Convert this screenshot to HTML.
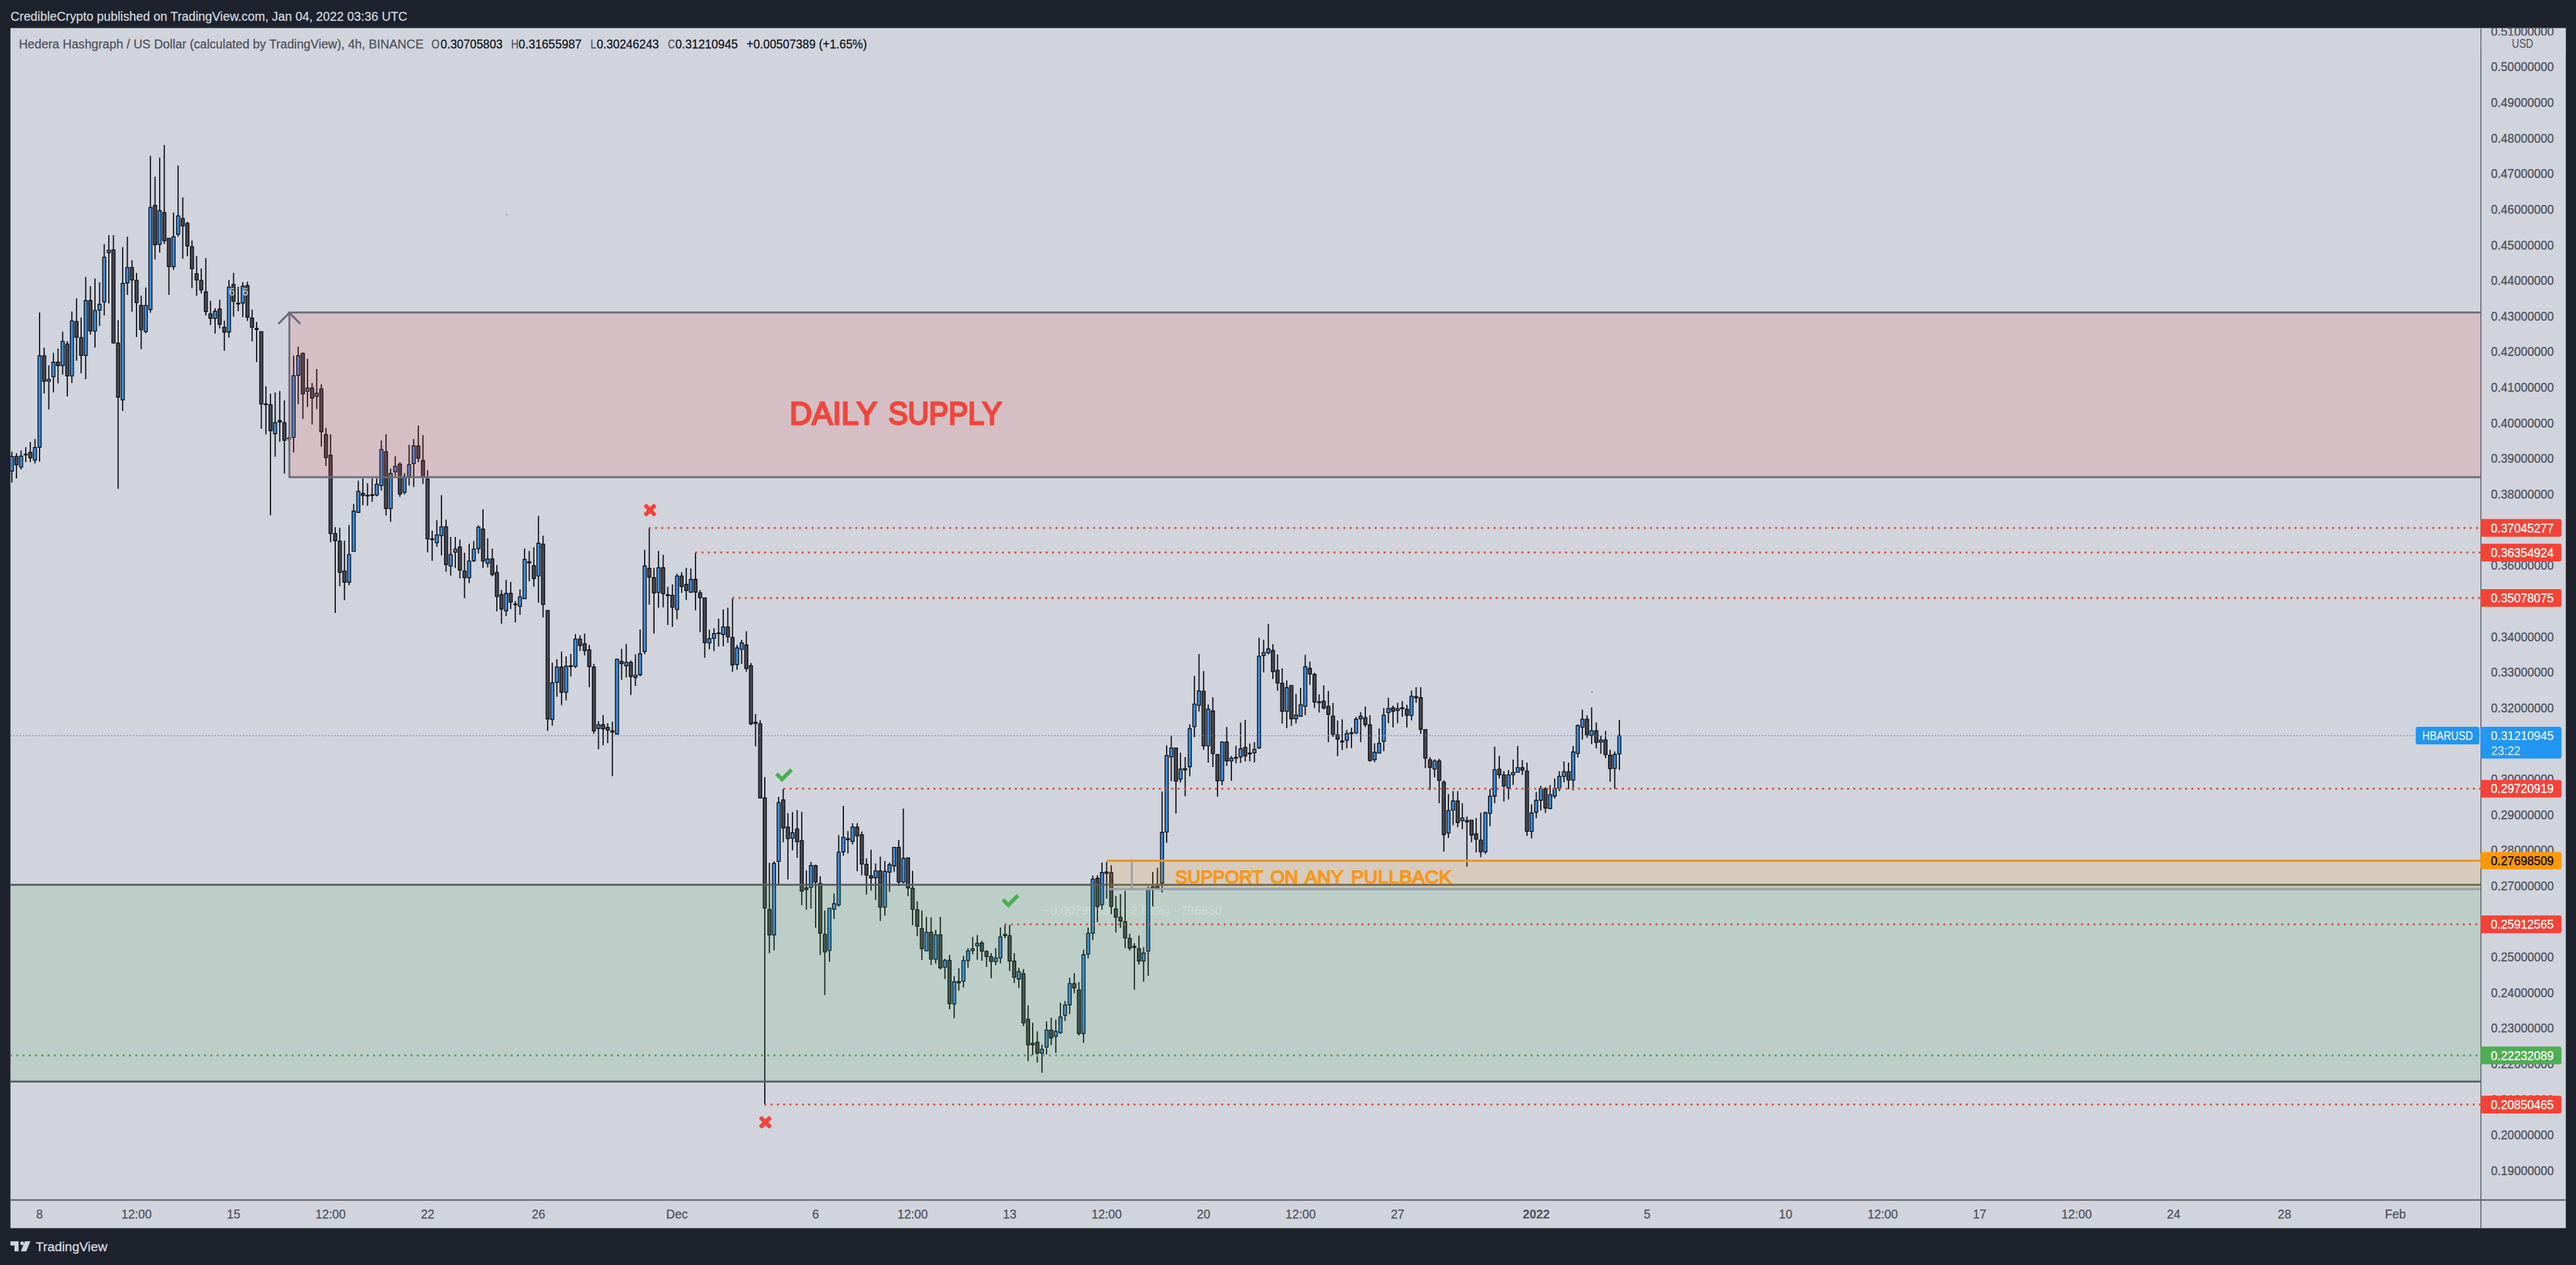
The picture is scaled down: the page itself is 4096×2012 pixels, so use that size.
<!DOCTYPE html>
<html><head><meta charset="utf-8"><title>HBARUSD</title>
<style>
html,body{margin:0;padding:0;background:#1e222d;}
body{width:4096px;height:2012px;overflow:hidden;position:relative;}
svg{position:absolute;left:0;top:0;display:block;}
text{font-family:"Liberation Sans",sans-serif;}

</style></head><body>
<svg width="4096" height="2012" viewBox="0 0 4096 2012">
<rect x="0" y="0" width="4096" height="2012" fill="#1e222d"/>
<rect x="16.6" y="44.6" width="4063.2000000000003" height="1908.8000000000002" fill="#d1d4dc"/>
<text x="16.8" y="32.6" font-size="20" fill="#d1d4dc" stroke="#d1d4dc" stroke-width="0.3" textLength="630.7" lengthAdjust="spacingAndGlyphs">CredibleCrypto published on TradingView.com, Jan 04, 2022 03:36 UTC</text>
<defs><clipPath id="pane"><rect x="16.6" y="44.6" width="3928.1" height="1864.0"/></clipPath><clipPath id="axis"><rect x="3944.0" y="44.6" width="135.80000000000035" height="1864.0"/></clipPath></defs>
<g clip-path="url(#pane)">
<text x="1658.6" y="1455" font-size="20" fill="#ffffff" fill-opacity="0.42" textLength="284" lengthAdjust="spacingAndGlyphs">−0.00795630 (−2.88%) −796630</text>
<path d="M18.8 718.3V767.4M26.2 720.7V761.0M33.5 716.4V746.8M40.9 711.2V734.9M48.2 702.9V734.9M55.6 698.2V737.3M62.9 497.1V734.2M70.2 553.0V625.8M77.6 581.3V651.2M84.9 561.3V624.0M92.3 554.2V609.7M99.6 527.4V595.7M107.0 542.8V630.6M114.3 495.4V609.2M121.7 474.5V573.7M129.0 504.9V593.4M136.3 440.6V603.2M143.7 455.3V532.1M151.0 442.9V552.7M158.4 448.9V518.6M165.7 388.4V501.7M173.1 374.1V482.8M180.4 374.1V546.3M187.8 509.3V777.5M195.1 393.1V653.8M202.5 376.5V469.0M209.8 414.0V495.8M217.1 433.9V536.1M224.5 470.2V555.3M231.8 457.2V530.2M239.2 247.7V497.5M246.5 280.9V412.6M253.9 250.8V401.4M261.2 230.7V387.9M268.6 378.9V469.0M275.9 337.9V429.2M283.2 263.2V376.5M290.6 314.1V411.6M297.9 352.8V407.4M305.3 382.4V458.3M312.6 407.3V470.6M320.0 427.0V466.6M327.3 410.4V502.1M334.7 478.4V517.1M342.0 490.3V530.6M349.4 476.8V522.3M356.7 510.0V557.9M364.0 445.2V537.0M371.4 434.1V503.8M378.7 455.9V495.0M386.1 448.8V504.5M393.4 448.1V510.4M400.8 492.6V542.9M408.1 512.1V576.1M415.5 527.5V681.9M422.8 614.3V690.9M430.1 625.9V819.4M437.5 624.3V726.5M444.8 621.9V702.8M452.2 636.8V753.3M459.5 693.0V702.5M466.9 565.7V719.4M474.2 551.5V642.8M481.6 560.7V666.2M488.9 570.4V647.3M496.3 609.3V675.3M503.6 587.0V650.4M510.9 611.2V710.6M518.3 680.7V741.0M525.6 690.7V862.5M533.0 838.4V975.0M540.3 839.2V932.3M547.7 859.7V954.5M555.0 834.9V930.8M562.4 801.4V877.1M569.7 764.4V815.0M577.0 760.9V803.6M584.4 768.6V804.5M591.7 760.9V797.9M599.1 760.9V789.4M606.4 700.6V780.3M613.8 690.7V820.1M621.1 745.3V830.1M628.5 725.4V756.7M635.8 735.3V790.3M643.2 752.4V786.6M650.5 707.4V772.3M657.8 698.3V774.6M665.2 677.0V735.3M672.5 692.1V769.5M679.9 748.1V878.5M687.2 844.0V891.9M694.6 827.3V869.7M701.9 787.4V883.3M709.3 826.4V909.5M716.6 854.0V915.5M723.9 854.0V903.2M731.3 858.3V920.3M738.6 879.1V951.6M746.0 864.8V927.4M753.3 860.6V894.1M760.7 835.5V880.5M768.0 809.9V903.2M775.4 856.3V902.4M782.7 872.5V916.6M790.1 898.4V972.4M797.4 938.2V992.3M804.7 922.3V980.1M812.1 925.4V968.7M819.4 955.9V990.0M826.8 937.4V978.1M834.1 872.5V953.0M841.5 876.3V924.6M848.8 870.3V933.2M856.2 820.5V958.5M863.5 852.1V982.1M870.8 970.8V1162.6M878.2 1054.1V1154.3M885.5 1048.4V1108.2M892.9 1036.2V1121.6M900.2 1043.9V1113.9M907.6 1039.9V1076.0M914.9 1008.6V1062.4M922.3 1010.6V1035.4M929.6 1007.7V1042.5M937.0 1025.4V1093.1M944.3 1056.1V1167.1M951.6 1147.1V1191.7M959.0 1137.6V1185.4M966.3 1150.3V1181.9M973.7 1147.7V1234.4M981.0 1047.8V1168.3M988.4 1031.9V1080.9M995.7 1024.3V1077.5M1003.1 1050.4V1105.4M1010.4 1041.0V1091.1M1017.8 1001.2V1075.5M1025.1 874.6V1040.5M1032.4 839.8V961.4M1039.8 903.3V1007.7M1047.1 876.3V966.5M1054.5 882.5V965.9M1061.8 933.2V994.1M1069.2 929.5V996.9M1076.5 912.4V985.0M1083.9 910.1V943.1M1091.2 903.0V954.2M1098.5 903.9V943.1M1105.9 878.8V970.8M1113.2 938.6V1005.5M1120.6 950.8V1046.2M1127.9 1001.5V1032.8M1135.3 999.2V1035.4M1142.6 984.1V1028.5M1150.0 969.3V1027.7M1157.3 966.5V1022.5M1164.7 951.4V1068.4M1172.0 1025.7V1065.2M1179.3 1017.7V1056.1M1186.7 1004.0V1068.4M1194.0 1054.4V1153.4M1201.4 1135.8V1187.0M1208.7 1145.5V1270.1M1216.1 1236.0V1757.1M1223.4 1372.3V1516.0M1230.8 1370.1V1511.8M1238.1 1267.6V1407.9M1245.4 1254.8V1339.6M1252.8 1293.2V1398.8M1260.1 1291.8V1352.4M1267.5 1288.4V1364.6M1274.8 1291.2V1439.8M1282.2 1384.3V1446.9M1289.5 1370.9V1444.9M1296.9 1375.2V1475.6M1304.2 1393.7V1518.9M1311.5 1448.3V1582.4M1318.9 1444.3V1529.7M1326.2 1421.3V1461.4M1333.6 1328.2V1442.1M1340.9 1281.8V1360.9M1348.3 1321.7V1357.5M1355.6 1309.2V1343.3M1363.0 1309.2V1385.7M1370.3 1322.5V1392.3M1377.7 1365.2V1422.7M1385.0 1351.6V1416.4M1392.3 1373.2V1431.5M1399.7 1362.4V1464.8M1407.0 1369.5V1456.3M1414.4 1371.8V1418.4M1421.7 1347.6V1386.6M1429.1 1335.9V1409.3M1436.4 1286.1V1405.1M1443.8 1363.8V1425.5M1451.1 1385.1V1471.4M1458.5 1433.5V1489.0M1465.8 1448.3V1526.9M1473.1 1458.6V1513.2M1480.5 1459.1V1535.1M1487.8 1479.0V1532.7M1495.2 1458.2V1542.1M1502.5 1525.1V1557.2M1509.9 1518.8V1605.3M1517.2 1552.7V1619.5M1524.6 1540.1V1575.4M1531.9 1520.2V1570.6M1539.2 1508.0V1539.3M1546.6 1490.3V1517.4M1553.9 1487.2V1526.5M1561.3 1496.6V1527.9M1568.6 1511.7V1537.9M1576.0 1516.0V1555.8M1583.3 1508.0V1535.0M1590.7 1475.3V1532.2M1598.0 1471.0V1492.3M1605.4 1471.0V1544.4M1612.7 1516.0V1563.5M1620.0 1539.3V1571.4M1627.4 1541.3V1632.3M1634.7 1599.1V1687.8M1642.1 1626.7V1678.2M1649.4 1640.3V1690.1M1656.8 1661.7V1706.3M1664.1 1624.7V1677.3M1671.5 1618.4V1662.5M1678.8 1621.8V1674.5M1686.1 1594.8V1644.6M1693.5 1591.9V1623.8M1700.8 1554.9V1612.7M1708.2 1547.8V1579.7M1715.5 1562.1V1646.9M1722.9 1510.8V1658.8M1730.2 1475.3V1524.2M1737.6 1392.7V1495.2M1744.9 1391.9V1466.7M1752.2 1372.0V1446.8M1759.6 1370.8V1429.2M1766.9 1376.2V1453.9M1774.3 1424.9V1482.9M1781.6 1422.0V1475.8M1789.0 1416.9V1508.0M1796.3 1485.2V1511.7M1803.7 1500.3V1574.3M1811.0 1488.1V1534.2M1818.4 1506.6V1561.5M1825.7 1409.8V1552.1M1833.0 1387.0V1441.7M1840.4 1380.3V1413.6M1847.7 1258.8V1419.3M1855.1 1185.4V1340.5M1862.4 1169.7V1242.3M1869.8 1189.6V1294.1M1877.1 1197.3V1244.6M1884.5 1203.9V1266.5M1891.8 1152.1V1234.7M1899.2 1074.9V1172.6M1906.5 1040.2V1131.6M1913.8 1067.3V1192.5M1921.2 1120.5V1213.0M1928.5 1109.1V1220.1M1935.9 1199.6V1267.3M1943.2 1179.6V1248.9M1950.6 1156.3V1218.2M1957.9 1202.4V1241.7M1965.3 1185.9V1214.0M1972.6 1149.3V1213.4M1979.9 1145.1V1211.1M1987.3 1182.5V1211.1M1994.6 1180.2V1212.5M2002.0 1014.2V1191.0M2009.3 1017.4V1069.6M2016.7 992.2V1041.1M2024.0 1024.5V1080.0M2031.4 1041.1V1098.4M2038.7 1063.0V1150.8M2046.0 1082.3V1158.2M2053.4 1089.9V1154.6M2060.7 1103.8V1150.6M2068.1 1093.9V1139.8M2075.4 1041.5V1137.5M2082.8 1052.2V1089.5M2090.1 1070.0V1126.0M2097.5 1104.3V1133.2M2104.8 1090.1V1128.4M2112.2 1099.0V1180.6M2119.5 1118.0V1172.1M2126.8 1146.1V1202.8M2134.2 1144.2V1192.9M2141.5 1161.1V1190.6M2148.9 1157.4V1189.7M2156.2 1140.2V1167.3M2163.6 1132.8V1180.6M2170.9 1123.7V1156.5M2178.3 1137.6V1211.4M2185.6 1182.2V1212.2M2192.9 1158.7V1197.8M2200.3 1126.1V1194.7M2207.6 1109.7V1150.3M2215.0 1122.2V1156.9M2222.3 1117.7V1150.3M2229.7 1114.9V1139.9M2237.0 1120.9V1156.9M2244.4 1098.2V1145.7M2251.7 1093.0V1117.7M2259.1 1093.0V1167.0M2266.4 1160.5V1221.8M2273.7 1204.3V1256.5M2281.1 1207.7V1236.2M2288.4 1207.0V1277.4M2295.8 1240.9V1354.4M2303.1 1263.0V1332.7M2310.5 1258.3V1312.6M2317.8 1258.3V1315.7M2325.2 1277.4V1319.1M2332.5 1298.8V1378.6M2339.8 1304.3V1339.5M2347.2 1300.9V1355.7M2354.5 1292.5V1363.5M2361.9 1291.0V1358.3M2369.2 1255.2V1313.9M2376.6 1187.4V1277.4M2383.9 1202.3V1238.3M2391.3 1226.5V1274.8M2398.6 1224.7V1271.4M2406.0 1208.3V1248.2M2413.3 1186.6V1229.1M2420.6 1209.0V1232.5M2428.0 1213.0V1329.6M2435.3 1279.2V1333.5M2442.7 1259.7V1301.4M2450.0 1250.0V1289.1M2457.4 1251.8V1293.0M2464.7 1248.7V1287.0M2472.1 1238.3V1270.1M2479.4 1226.5V1258.3M2486.8 1210.9V1244.3M2494.1 1213.0V1255.2M2501.4 1186.6V1257.3M2508.8 1152.2V1205.1M2516.1 1128.7V1176.4M2523.5 1137.8V1173.6M2530.8 1125.3V1183.5M2538.2 1149.0V1190.5M2545.5 1169.9V1199.1M2552.9 1162.6V1205.7M2560.2 1192.6V1243.5M2567.5 1195.2V1254.7M2574.9 1145.1V1224.7" stroke="#0d0e12" stroke-width="1.85" fill="none"/>
<path d="M23.6 725.9H28.7V739.2H23.6ZM38.3 722.4H43.4V723.6H38.3ZM45.7 719.5H50.8V728.3H45.7ZM67.7 565.8H72.8V606.2H67.7ZM89.7 576.0H94.8V581.5H89.7ZM104.4 547.1H109.5V597.9H104.4ZM119.1 511.3H124.2V536.4H119.1ZM126.5 536.9H131.6V565.4H126.5ZM141.1 478.0H146.2V526.2H141.1ZM177.9 397.4H183.0V545.6H177.9ZM185.2 545.6H190.3V631.7H185.2ZM207.2 425.4H212.4V445.3H207.2ZM214.6 445.8H219.7V481.3H214.6ZM221.9 485.6H227.0V524.3H221.9ZM244.0 326.7H249.1V389.3H244.0ZM258.7 337.9H263.8V382.7H258.7ZM266.0 378.9H271.1V424.0H266.0ZM288.0 347.4H293.1V359.4H288.0ZM295.4 355.2H300.5V391.2H295.4ZM302.7 392.3H307.8V427.4H302.7ZM310.1 435.3H315.2V445.2H310.1ZM317.4 445.9H322.5V461.1H317.4ZM324.8 464.2H329.9V495.5H324.8ZM332.1 499.1H337.2V506.2H332.1ZM346.8 491.5H351.9V515.7H346.8ZM354.1 520.4H359.2V528.2H354.1ZM368.8 452.3H373.9V479.1H368.8ZM376.2 482.2H381.3V483.6H376.2ZM390.9 454.2H396.0V504.5H390.9ZM398.2 505.7H403.3V520.6H398.2ZM405.6 522.3H410.7V524.0H405.6ZM412.9 527.5H418.0V642.5H412.9ZM420.3 642.4H425.4V643.6H420.3ZM427.6 643.7H432.7V685.0H427.6ZM442.3 668.9H447.4V671.2H442.3ZM449.6 672.2H454.7V700.4H449.6ZM457.0 696.7H462.1V697.9H457.0ZM479.0 561.9H484.1V626.6H479.0ZM493.7 617.2H498.8V633.0H493.7ZM508.4 618.3H513.5V686.6H508.4ZM515.7 691.2H520.8V727.7H515.7ZM523.1 724.0H528.2V848.6H523.1ZM530.4 848.6H535.5V860.0H530.4ZM537.8 860.6H542.9V910.4H537.8ZM545.1 908.1H550.2V926.0H545.1ZM574.5 784.6H579.6V788.0H574.5ZM581.8 787.7H586.9V788.9H581.8ZM589.2 786.8H594.3V788.0H589.2ZM611.2 718.3H616.3V808.8H611.2ZM633.3 738.2H638.4V785.7H633.3ZM662.6 709.2H667.7V728.8H662.6ZM670.0 732.5H675.1V759.0H670.0ZM677.3 761.8H682.4V857.1H677.3ZM684.7 857.1H689.8V858.3H684.7ZM706.7 837.8H711.8V898.1H706.7ZM728.7 869.9H733.8V906.7H728.7ZM736.1 908.1H741.2V918.9H736.1ZM765.5 841.5H770.6V892.4H765.5ZM780.2 889.0H785.3V913.8H780.2ZM787.5 910.4H792.6V948.8H787.5ZM794.9 945.4H799.9V968.7H794.9ZM809.5 943.7H814.6V957.9H809.5ZM816.9 960.7H822.0V961.9H816.9ZM838.9 893.3H844.0V895.3H838.9ZM846.3 899.6H851.4V920.4H846.3ZM861.0 865.5H866.1V961.4H861.0ZM868.3 970.8H873.4V1143.5H868.3ZM890.3 1061.0H895.4V1101.1H890.3ZM905.0 1059.0H910.1V1060.4H905.0ZM919.7 1016.3H924.8V1026.8H919.7ZM927.1 1024.0H932.2V1034.8H927.1ZM934.4 1033.4H939.5V1060.4H934.4ZM941.8 1061.0H946.8V1162.6H941.8ZM956.4 1152.6H961.5V1159.3H956.4ZM963.8 1156.9H968.9V1161.3H963.8ZM971.1 1162.5H976.2V1164.3H971.1ZM985.8 1051.9H990.9V1055.6H985.8ZM1000.5 1053.3H1005.6V1076.0H1000.5ZM1029.9 903.9H1035.0V918.1H1029.9ZM1037.2 918.7H1042.3V943.1H1037.2ZM1051.9 903.0H1057.0V944.3H1051.9ZM1059.3 946.0H1064.4V947.4H1059.3ZM1066.6 946.6H1071.7V965.9H1066.6ZM1081.3 916.1H1086.4V932.9H1081.3ZM1088.7 929.5H1093.8V939.4H1088.7ZM1103.3 921.5H1108.4V941.7H1103.3ZM1110.7 942.9H1115.8V950.8H1110.7ZM1118.0 950.8H1123.1V1022.0H1118.0ZM1140.1 1006.6H1145.2V1007.8H1140.1ZM1154.8 997.2H1159.9V1012.9H1154.8ZM1162.1 1014.0H1167.2V1057.5H1162.1ZM1184.1 1025.7H1189.2V1063.2H1184.1ZM1191.5 1058.7H1196.6V1151.2H1191.5ZM1198.8 1148.6H1203.9V1150.6H1198.8ZM1206.2 1151.2H1211.3V1269.3H1206.2ZM1213.5 1269.0H1218.6V1444.3H1213.5ZM1220.9 1446.3H1226.0V1487.0H1220.9ZM1242.9 1272.2H1248.0V1316.8H1242.9ZM1250.2 1315.4H1255.3V1333.9H1250.2ZM1264.9 1318.3H1270.0V1338.8H1264.9ZM1272.3 1336.8H1277.4V1417.3H1272.3ZM1279.6 1412.2H1284.7V1415.0H1279.6ZM1294.3 1376.6H1299.4V1402.8H1294.3ZM1301.7 1405.1H1306.8V1484.2H1301.7ZM1309.0 1486.2H1314.1V1514.1H1309.0ZM1345.7 1333.9H1350.8V1335.6H1345.7ZM1360.4 1315.4H1365.5V1329.6H1360.4ZM1367.8 1327.7H1372.9V1374.3H1367.8ZM1375.1 1374.6H1380.2V1391.7H1375.1ZM1382.5 1392.8H1387.5V1396.5H1382.5ZM1397.1 1385.1H1402.2V1442.9H1397.1ZM1426.5 1347.6H1431.6V1402.8H1426.5ZM1441.2 1364.4H1446.3V1412.2H1441.2ZM1448.6 1412.7H1453.7V1446.3H1448.6ZM1455.9 1446.9H1461.0V1473.4H1455.9ZM1463.2 1476.8H1468.3V1508.9H1463.2ZM1477.9 1482.8H1483.0V1525.4H1477.9ZM1492.6 1486.6H1497.7V1539.3H1492.6ZM1507.3 1527.3H1512.4V1596.2H1507.3ZM1522.0 1561.2H1527.1V1563.2H1522.0ZM1558.7 1499.7H1563.8V1512.8H1558.7ZM1566.1 1513.1H1571.2V1521.4H1566.1ZM1573.4 1521.4H1578.5V1529.3H1573.4ZM1595.5 1486.1H1600.6V1488.1H1595.5ZM1602.8 1488.1H1607.9V1528.5H1602.8ZM1610.1 1528.5H1615.2V1554.4H1610.1ZM1624.8 1548.4H1629.9V1626.7H1624.8ZM1632.2 1621.2H1637.3V1661.7H1632.2ZM1639.5 1659.4H1644.6V1661.7H1639.5ZM1646.9 1657.4H1652.0V1675.0H1646.9ZM1668.9 1638.3H1674.0V1651.1H1668.9ZM1705.6 1564.3H1710.7V1571.4H1705.6ZM1713.0 1574.3H1718.1V1643.7H1713.0ZM1742.4 1397.0H1747.5V1441.7H1742.4ZM1757.0 1387.0H1762.1V1389.0H1757.0ZM1764.4 1387.6H1769.5V1441.7H1764.4ZM1771.7 1445.4H1776.8V1458.8H1771.7ZM1779.1 1459.0H1784.2V1464.7H1779.1ZM1786.4 1465.9H1791.5V1491.8H1786.4ZM1793.8 1492.3H1798.9V1508.0H1793.8ZM1801.1 1505.1H1806.2V1507.1H1801.1ZM1808.5 1508.8H1813.6V1528.5H1808.5ZM1830.5 1410.7H1835.6V1412.4H1830.5ZM1837.8 1409.6H1842.9V1412.2H1837.8ZM1867.2 1189.6H1872.3V1242.3H1867.2ZM1881.9 1222.4H1887.0V1224.6H1881.9ZM1911.3 1099.4H1916.4V1186.3H1911.3ZM1926.0 1130.7H1931.1V1198.6H1926.0ZM1933.3 1200.1H1938.4V1241.7H1933.3ZM1948.0 1180.2H1953.1V1210.2H1948.0ZM1962.7 1204.7H1967.8V1205.9H1962.7ZM1977.4 1188.6H1982.5V1202.4H1977.4ZM1984.7 1197.7H1989.8V1199.0H1984.7ZM2021.5 1034.5H2026.6V1068.3H2021.5ZM2028.8 1066.2H2033.9V1086.3H2028.8ZM2036.2 1086.7H2041.3V1131.3H2036.2ZM2050.8 1090.1H2055.9V1143.2H2050.8ZM2080.2 1063.0H2085.3V1072.1H2080.2ZM2087.6 1072.5H2092.7V1116.5H2087.6ZM2094.9 1116.1H2100.0V1117.6H2094.9ZM2102.3 1115.1H2107.4V1126.1H2102.3ZM2109.6 1123.3H2114.7V1136.4H2109.6ZM2116.9 1138.9H2122.1V1167.9H2116.9ZM2124.3 1168.8H2129.4V1175.5H2124.3ZM2131.6 1178.7H2136.7V1180.0H2131.6ZM2146.3 1165.4H2151.4V1166.7H2146.3ZM2168.4 1141.3H2173.5V1152.5H2168.4ZM2175.7 1153.0H2180.8V1209.6H2175.7ZM2212.4 1125.6H2217.5V1131.3H2212.4ZM2227.1 1125.6H2232.2V1127.4H2227.1ZM2234.5 1127.9H2239.6V1137.8H2234.5ZM2249.2 1107.8H2254.3V1109.7H2249.2ZM2256.5 1109.7H2261.6V1160.0H2256.5ZM2263.8 1160.5H2269.0V1205.7H2263.8ZM2271.2 1208.3H2276.3V1220.5H2271.2ZM2285.9 1210.1H2291.0V1241.4H2285.9ZM2293.2 1244.0H2298.3V1327.5H2293.2ZM2315.3 1274.0H2320.4V1308.2H2315.3ZM2330.0 1304.8H2335.1V1307.4H2330.0ZM2337.3 1304.3H2342.4V1328.3H2337.3ZM2344.6 1326.2H2349.7V1334.8H2344.6ZM2352.0 1336.1H2357.1V1354.9H2352.0ZM2381.4 1223.4H2386.5V1232.3H2381.4ZM2388.7 1232.3H2393.8V1250.0H2388.7ZM2418.1 1220.8H2423.2V1224.7H2418.1ZM2425.4 1226.5H2430.5V1322.3H2425.4ZM2454.8 1254.7H2459.9V1285.2H2454.8ZM2491.5 1227.3H2496.6V1240.9H2491.5ZM2520.9 1143.8H2526.0V1169.1H2520.9ZM2535.6 1162.1H2540.7V1180.9H2535.6ZM2550.3 1177.0H2555.4V1200.4H2550.3ZM2557.6 1201.2H2562.8V1222.6H2557.6Z" fill="#464851" stroke="#0b0c0f" stroke-width="1.35"/>
<path d="M16.3 726.2H21.4V749.2H16.3ZM31.0 725.5H36.1V742.8H31.0ZM53.0 711.7H58.1V731.9H53.0ZM60.4 565.8H65.5V711.2H60.4ZM75.0 603.3H80.1V606.4H75.0ZM82.4 576.0H87.5V599.3H82.4ZM97.1 542.8H102.2V581.5H97.1ZM111.8 510.4H116.9V597.9H111.8ZM133.8 478.0H138.9V565.3H133.8ZM148.5 493.9H153.6V526.6H148.5ZM155.8 484.0H160.9V493.4H155.8ZM163.2 409.2H168.3V480.4H163.2ZM170.5 397.9H175.6V401.7H170.5ZM192.6 450.7H197.7V636.0H192.6ZM199.9 425.4H205.0V450.0H199.9ZM229.3 485.6H234.4V527.3H229.3ZM236.6 329.8H241.7V492.3H236.6ZM251.3 335.0H256.4V388.6H251.3ZM273.4 376.5H278.5V424.0H273.4ZM280.7 343.3H285.8V372.5H280.7ZM339.5 495.0H344.6V506.2H339.5ZM361.5 456.6H366.6V528.2H361.5ZM383.5 455.2H388.6V482.0H383.5ZM434.9 672.2H440.0V689.7H434.9ZM464.3 597.5H469.4V695.6H464.3ZM471.7 565.7H476.8V597.0H471.7ZM486.4 617.2H491.5V622.4H486.4ZM501.0 625.5H506.1V630.2H501.0ZM552.5 881.9H557.6V926.0H552.5ZM559.8 812.7H564.9V877.1H559.8ZM567.2 781.4H572.3V815.0H567.2ZM596.5 770.1H601.6V787.4H596.5ZM603.9 714.8H609.0V772.3H603.9ZM618.6 753.0H623.7V808.8H618.6ZM625.9 741.6H631.0V750.4H625.9ZM640.6 758.1H645.7V783.1H640.6ZM648.0 739.0H653.0V758.1H648.0ZM655.3 709.2H660.4V737.3H655.3ZM692.0 850.6H697.1V863.4H692.0ZM699.4 837.8H704.5V852.0H699.4ZM714.1 881.9H719.2V900.4H714.1ZM721.4 873.4H726.5V878.2H721.4ZM743.4 892.4H748.5V918.9H743.4ZM750.8 873.4H755.9V891.9H750.8ZM758.1 838.4H763.2V872.5H758.1ZM772.8 889.0H777.9V896.1H772.8ZM802.2 943.7H807.3V971.5H802.2ZM824.2 949.3H829.3V964.4H824.2ZM831.6 889.6H836.7V952.2H831.6ZM853.6 864.0H858.7V916.1H853.6ZM875.6 1086.0H880.7V1144.3H875.6ZM883.0 1061.0H888.1V1085.2H883.0ZM897.7 1059.5H902.8V1101.1H897.7ZM912.4 1016.3H917.5V1059.8H912.4ZM949.1 1152.6H954.2V1158.5H949.1ZM978.5 1048.5H983.6V1167.5H978.5ZM993.2 1053.3H998.3V1059.0H993.2ZM1007.9 1073.8H1013.0V1077.5H1007.9ZM1015.2 1039.6H1020.3V1073.2H1015.2ZM1022.5 900.2H1027.6V1036.2H1022.5ZM1044.6 903.0H1049.7V942.3H1044.6ZM1074.0 916.1H1079.1V969.3H1074.0ZM1096.0 921.5H1101.1V941.7H1096.0ZM1125.4 1015.7H1130.5V1022.5H1125.4ZM1132.7 1007.7H1137.8V1015.4H1132.7ZM1147.4 997.2H1152.5V1009.2H1147.4ZM1169.4 1030.5H1174.5V1057.0H1169.4ZM1176.8 1022.5H1181.9V1032.8H1176.8ZM1228.2 1373.2H1233.3V1487.0H1228.2ZM1235.6 1276.4H1240.7V1370.3H1235.6ZM1257.6 1324.5H1262.7V1333.3H1257.6ZM1287.0 1376.6H1292.1V1411.6H1287.0ZM1316.3 1444.3H1321.4V1511.8H1316.3ZM1323.7 1437.2H1328.8V1446.3H1323.7ZM1331.0 1355.3H1336.1V1439.2H1331.0ZM1338.4 1331.6H1343.5V1354.7H1338.4ZM1353.1 1315.4H1358.2V1338.2H1353.1ZM1389.8 1385.1H1394.9V1396.0H1389.8ZM1404.5 1386.0H1409.6V1442.9H1404.5ZM1411.8 1375.2H1416.9V1387.4H1411.8ZM1419.2 1347.6H1424.3V1377.2H1419.2ZM1433.9 1365.2H1439.0V1402.8H1433.9ZM1470.6 1482.8H1475.7V1512.3H1470.6ZM1485.3 1486.6H1490.4V1525.9H1485.3ZM1500.0 1527.3H1505.1V1538.4H1500.0ZM1514.7 1561.5H1519.8V1596.8H1514.7ZM1529.4 1527.9H1534.5V1560.6H1529.4ZM1536.7 1512.3H1541.8V1527.9H1536.7ZM1544.0 1509.1H1549.1V1511.7H1544.0ZM1551.4 1500.3H1556.5V1504.3H1551.4ZM1580.8 1523.6H1585.9V1529.3H1580.8ZM1588.1 1490.1H1593.2V1523.6H1588.1ZM1617.5 1545.5H1622.6V1557.2H1617.5ZM1654.2 1668.8H1659.3V1675.0H1654.2ZM1661.6 1638.3H1666.7V1665.4H1661.6ZM1676.2 1640.3H1681.3V1648.3H1676.2ZM1683.6 1617.5H1688.7V1642.6H1683.6ZM1690.9 1598.5H1696.0V1614.7H1690.9ZM1698.3 1564.3H1703.4V1598.2H1698.3ZM1720.3 1518.5H1725.4V1643.7H1720.3ZM1727.7 1484.4H1732.8V1517.4H1727.7ZM1735.0 1398.4H1740.1V1484.4H1735.0ZM1749.7 1387.6H1754.8V1439.1H1749.7ZM1815.8 1515.7H1820.9V1528.5H1815.8ZM1823.2 1414.1H1828.2V1512.8H1823.2ZM1845.2 1324.0H1850.3V1404.5H1845.2ZM1852.5 1201.6H1857.6V1323.4H1852.5ZM1859.9 1189.6H1865.0V1203.9H1859.9ZM1874.6 1223.2H1879.7V1239.4H1874.6ZM1889.3 1158.8H1894.4V1219.5H1889.3ZM1896.6 1119.9H1901.7V1155.9H1896.6ZM1903.9 1099.0H1909.0V1121.8H1903.9ZM1918.6 1128.0H1923.7V1186.3H1918.6ZM1940.7 1180.2H1945.8V1241.7H1940.7ZM1955.4 1205.8H1960.5V1210.4H1955.4ZM1970.1 1191.0H1975.2V1203.7H1970.1ZM1992.1 1192.0H1997.2V1197.3H1992.1ZM1999.4 1043.6H2004.5V1189.5H1999.4ZM2006.8 1037.9H2011.9V1042.5H2006.8ZM2014.1 1032.2H2019.2V1038.3H2014.1ZM2043.5 1093.7H2048.6V1131.3H2043.5ZM2058.2 1137.5H2063.3V1143.2H2058.2ZM2065.5 1120.8H2070.6V1139.2H2065.5ZM2072.9 1060.5H2078.0V1123.3H2072.9ZM2139.0 1166.7H2144.1V1177.4H2139.0ZM2153.7 1144.0H2158.8V1165.8H2153.7ZM2161.0 1139.2H2166.1V1143.2H2161.0ZM2183.1 1196.5H2188.2V1208.3H2183.1ZM2190.4 1182.2H2195.5V1197.8H2190.4ZM2197.7 1137.3H2202.8V1179.0H2197.7ZM2205.1 1126.9H2210.2V1133.4H2205.1ZM2219.8 1126.9H2224.9V1130.0H2219.8ZM2241.8 1107.3H2246.9V1137.8H2241.8ZM2278.5 1210.3H2283.6V1223.1H2278.5ZM2300.6 1289.1H2305.7V1324.9H2300.6ZM2307.9 1274.0H2313.0V1288.3H2307.9ZM2322.6 1300.9H2327.7V1305.3H2322.6ZM2359.3 1292.5H2364.4V1354.9H2359.3ZM2366.7 1266.4H2371.8V1293.6H2366.7ZM2374.0 1224.4H2379.1V1266.2H2374.0ZM2396.1 1232.3H2401.2V1253.4H2396.1ZM2403.4 1228.6H2408.5V1232.3H2403.4ZM2410.8 1220.8H2415.9V1228.3H2410.8ZM2432.8 1293.0H2437.9V1322.3H2432.8ZM2440.1 1273.0H2445.2V1291.7H2440.1ZM2447.5 1253.9H2452.6V1272.7H2447.5ZM2462.2 1263.8H2467.3V1286.0H2462.2ZM2469.5 1253.9H2474.6V1266.4H2469.5ZM2476.9 1234.9H2482.0V1253.9H2476.9ZM2484.2 1227.3H2489.3V1234.9H2484.2ZM2498.9 1196.0H2504.0V1240.9H2498.9ZM2506.2 1154.0H2511.3V1198.3H2506.2ZM2513.6 1143.8H2518.7V1156.6H2513.6ZM2528.3 1162.1H2533.4V1169.7H2528.3ZM2543.0 1177.0H2548.1V1180.3H2543.0ZM2565.0 1199.7H2570.1V1222.1H2565.0ZM2572.3 1169.9H2577.4V1199.1H2572.3Z" fill="#3a8bdc" stroke="#0b0c0f" stroke-width="1.35"/>
<text x="364.3" y="470" font-size="16" fill="#d6dae3">6</text><text x="385.4" y="470" font-size="16" fill="#d6dae3">6</text>
<line x1="16.6" x2="3944.7" y1="1170.1" y2="1170.1" stroke="#4794da" stroke-width="1.6" stroke-dasharray="1.7 3.3"/>
<rect x="460.1" y="497.1" width="3489.6" height="261.79999999999995" fill="rgba(244,67,54,0.14)"/>
<path d="M3949.7 497.1H460.1V758.9H3949.7" fill="none" stroke="#696c78" stroke-width="3"/>
<path d="M442.6 515.1L460.1 497.6L477.6 515.1" fill="none" stroke="#696c78" stroke-width="3.2"/>
<text x="1255.4" y="674.9" font-size="50.6" fill="#f0463b" stroke="#f0463b" stroke-width="2.8" stroke-linejoin="miter" textLength="139.3" lengthAdjust="spacingAndGlyphs">DAILY</text>
<text x="1412.4" y="674.9" font-size="50.6" fill="#f0463b" stroke="#f0463b" stroke-width="2.8" stroke-linejoin="miter" textLength="180.4" lengthAdjust="spacingAndGlyphs">SUPPLY</text>
<rect x="13.600000000000001" y="1407.3" width="3936.1" height="313.0" fill="rgba(76,175,80,0.145)"/>
<path d="M13.600000000000001 1407.3H3949.7M13.600000000000001 1720.3H3949.7" fill="none" stroke="#555c5f" stroke-width="3"/>
<rect x="1759.8" y="1369.0" width="2189.8999999999996" height="45.1" fill="rgba(255,152,0,0.14)"/>
<path d="M1759.8 1414.1H3949.7" fill="none" stroke="#98a0ac" stroke-width="3.3"/>
<path d="M1799.8 1369.0V1413" fill="none" stroke="#9c9da3" stroke-width="3"/>
<path d="M1759.8 1369.0H3949.7" fill="none" stroke="#ea9626" stroke-width="3.4"/>
<text x="1868.8" y="1405.1" font-size="29.8" fill="#f7981c" stroke="#f7981c" stroke-width="1.8" textLength="139.5" lengthAdjust="spacingAndGlyphs">SUPPORT</text>
<text x="2019.8" y="1405.1" font-size="29.8" fill="#f7981c" stroke="#f7981c" stroke-width="1.8" textLength="44.4" lengthAdjust="spacingAndGlyphs">ON</text>
<text x="2074.6" y="1405.1" font-size="29.8" fill="#f7981c" stroke="#f7981c" stroke-width="1.8" textLength="61.4" lengthAdjust="spacingAndGlyphs">ANY</text>
<text x="2148.2" y="1405.1" font-size="29.8" fill="#f7981c" stroke="#f7981c" stroke-width="1.8" textLength="159.9" lengthAdjust="spacingAndGlyphs">PULLBACK</text>
<line x1="1031.6" x2="3944.7" y1="839.7" y2="839.7" stroke="#d9503e" stroke-width="3.1" stroke-dasharray="3.2 6.75"/>
<line x1="1105.5" x2="3944.7" y1="878.8" y2="878.8" stroke="#d9503e" stroke-width="3.1" stroke-dasharray="3.2 6.75"/>
<line x1="1164.4" x2="3944.7" y1="951.1" y2="951.1" stroke="#d9503e" stroke-width="3.1" stroke-dasharray="3.2 6.75"/>
<line x1="1245.5" x2="3944.7" y1="1254.5" y2="1254.5" stroke="#d9503e" stroke-width="3.1" stroke-dasharray="3.2 6.75"/>
<line x1="1597.5" x2="3944.7" y1="1470.2" y2="1470.2" stroke="#d9503e" stroke-width="3.1" stroke-dasharray="3.2 6.75"/>
<line x1="1215.4" x2="3944.7" y1="1756.8" y2="1756.8" stroke="#d9503e" stroke-width="3.1" stroke-dasharray="3.2 6.75"/>
<line x1="16.0" x2="3944.7" y1="1678.6" y2="1678.6" stroke="#4fa85a" stroke-width="3.1" stroke-dasharray="3.2 6.75"/>
<rect x="1021.95" y="808.20" width="23.30" height="6.4" rx="1.3" fill="#f44336" transform="rotate(45 1033.6 811.4)"/>
<rect x="1021.95" y="808.20" width="23.30" height="6.4" rx="1.3" fill="#f44336" transform="rotate(-45 1033.6 811.4)"/>
<rect x="1205.49" y="1781.70" width="23.02" height="6.4" rx="1.3" fill="#f44336" transform="rotate(45 1217.0 1784.9)"/>
<rect x="1205.49" y="1781.70" width="23.02" height="6.4" rx="1.3" fill="#f44336" transform="rotate(-45 1217.0 1784.9)"/>
<polygon points="1233.3,1232.9 1236.8,1229.4 1243.4,1236.0 1256.4,1223.0 1259.9,1226.5 1243.4,1243.0" fill="#4caf50" stroke="#4caf50" stroke-width="1.3" stroke-linejoin="round"/>
<polygon points="1593.3,1432.9 1596.8,1429.4 1603.4,1436.0 1616.4,1423.0 1619.9,1426.5 1603.4,1443.0" fill="#4caf50" stroke="#4caf50" stroke-width="1.3" stroke-linejoin="round"/>
<circle cx="2531.4" cy="1100.8" r="1.3" fill="#9aa0a8"/>
<circle cx="805.5" cy="341.7" r="1.2" fill="#9c9fab"/>
</g>
<rect x="3841.2" y="1156" width="101.0" height="27.9" rx="3" fill="#2196f3"/>
<text x="3851.5" y="1176.9" font-size="19.3" fill="#ffffff" textLength="80.6" lengthAdjust="spacingAndGlyphs">HBARUSD</text>
<text x="29.9" y="76.9" font-size="19.6" fill="#50535e" stroke="#50535e" stroke-width="0.3" textLength="643.6" lengthAdjust="spacingAndGlyphs">Hedera Hashgraph / US Dollar (calculated by TradingView), 4h, BINANCE</text>
<text x="686.1" y="76.9" font-size="19.6" fill="#50535e" stroke="#50535e" stroke-width="0.3" textLength="13.0" lengthAdjust="spacingAndGlyphs">O</text>
<text x="700.6" y="76.9" font-size="19.6" fill="#131722" stroke="#131722" stroke-width="0.3" textLength="98.6" lengthAdjust="spacingAndGlyphs">0.30705803</text>
<text x="812.8" y="76.9" font-size="19.6" fill="#50535e" stroke="#50535e" stroke-width="0.3" textLength="11.8" lengthAdjust="spacingAndGlyphs">H</text>
<text x="824.6" y="76.9" font-size="19.6" fill="#131722" stroke="#131722" stroke-width="0.3" textLength="100.3" lengthAdjust="spacingAndGlyphs">0.31655987</text>
<text x="939.1" y="76.9" font-size="19.6" fill="#50535e" stroke="#50535e" stroke-width="0.3" textLength="8.8" lengthAdjust="spacingAndGlyphs">L</text>
<text x="948.7" y="76.9" font-size="19.6" fill="#131722" stroke="#131722" stroke-width="0.3" textLength="99.1" lengthAdjust="spacingAndGlyphs">0.30246243</text>
<text x="1062.0" y="76.9" font-size="19.6" fill="#50535e" stroke="#50535e" stroke-width="0.3" textLength="11.2" lengthAdjust="spacingAndGlyphs">C</text>
<text x="1073.7" y="76.9" font-size="19.6" fill="#131722" stroke="#131722" stroke-width="0.3" textLength="99.6" lengthAdjust="spacingAndGlyphs">0.31210945</text>
<text x="1187.0" y="76.9" font-size="19.6" fill="#131722" stroke="#131722" stroke-width="0.3" textLength="191.5" lengthAdjust="spacingAndGlyphs">+0.00507389 (+1.65%)</text>
<rect x="3944.1" y="44.6" width="1.4" height="1908.8000000000002" fill="#50535e"/>
<rect x="16.6" y="1907.6" width="4063.2000000000003" height="2" fill="#50535e"/>
<g clip-path="url(#axis)">
<text x="3960.8" y="56.8" font-size="19.3" fill="#50535e" stroke="#50535e" stroke-width="0.35" textLength="100" lengthAdjust="spacingAndGlyphs">0.51000000</text>
<text x="3960.8" y="113.4" font-size="19.3" fill="#50535e" stroke="#50535e" stroke-width="0.35" textLength="100" lengthAdjust="spacingAndGlyphs">0.50000000</text>
<text x="3960.8" y="170.0" font-size="19.3" fill="#50535e" stroke="#50535e" stroke-width="0.35" textLength="100" lengthAdjust="spacingAndGlyphs">0.49000000</text>
<text x="3960.8" y="226.7" font-size="19.3" fill="#50535e" stroke="#50535e" stroke-width="0.35" textLength="100" lengthAdjust="spacingAndGlyphs">0.48000000</text>
<text x="3960.8" y="283.3" font-size="19.3" fill="#50535e" stroke="#50535e" stroke-width="0.35" textLength="100" lengthAdjust="spacingAndGlyphs">0.47000000</text>
<text x="3960.8" y="339.9" font-size="19.3" fill="#50535e" stroke="#50535e" stroke-width="0.35" textLength="100" lengthAdjust="spacingAndGlyphs">0.46000000</text>
<text x="3960.8" y="396.6" font-size="19.3" fill="#50535e" stroke="#50535e" stroke-width="0.35" textLength="100" lengthAdjust="spacingAndGlyphs">0.45000000</text>
<text x="3960.8" y="453.2" font-size="19.3" fill="#50535e" stroke="#50535e" stroke-width="0.35" textLength="100" lengthAdjust="spacingAndGlyphs">0.44000000</text>
<text x="3960.8" y="509.8" font-size="19.3" fill="#50535e" stroke="#50535e" stroke-width="0.35" textLength="100" lengthAdjust="spacingAndGlyphs">0.43000000</text>
<text x="3960.8" y="566.4" font-size="19.3" fill="#50535e" stroke="#50535e" stroke-width="0.35" textLength="100" lengthAdjust="spacingAndGlyphs">0.42000000</text>
<text x="3960.8" y="623.1" font-size="19.3" fill="#50535e" stroke="#50535e" stroke-width="0.35" textLength="100" lengthAdjust="spacingAndGlyphs">0.41000000</text>
<text x="3960.8" y="679.7" font-size="19.3" fill="#50535e" stroke="#50535e" stroke-width="0.35" textLength="100" lengthAdjust="spacingAndGlyphs">0.40000000</text>
<text x="3960.8" y="736.3" font-size="19.3" fill="#50535e" stroke="#50535e" stroke-width="0.35" textLength="100" lengthAdjust="spacingAndGlyphs">0.39000000</text>
<text x="3960.8" y="793.0" font-size="19.3" fill="#50535e" stroke="#50535e" stroke-width="0.35" textLength="100" lengthAdjust="spacingAndGlyphs">0.38000000</text>
<text x="3960.8" y="849.6" font-size="19.3" fill="#50535e" stroke="#50535e" stroke-width="0.35" textLength="100" lengthAdjust="spacingAndGlyphs">0.37000000</text>
<text x="3960.8" y="906.2" font-size="19.3" fill="#50535e" stroke="#50535e" stroke-width="0.35" textLength="100" lengthAdjust="spacingAndGlyphs">0.36000000</text>
<text x="3960.8" y="962.9" font-size="19.3" fill="#50535e" stroke="#50535e" stroke-width="0.35" textLength="100" lengthAdjust="spacingAndGlyphs">0.35000000</text>
<text x="3960.8" y="1019.5" font-size="19.3" fill="#50535e" stroke="#50535e" stroke-width="0.35" textLength="100" lengthAdjust="spacingAndGlyphs">0.34000000</text>
<text x="3960.8" y="1076.1" font-size="19.3" fill="#50535e" stroke="#50535e" stroke-width="0.35" textLength="100" lengthAdjust="spacingAndGlyphs">0.33000000</text>
<text x="3960.8" y="1132.7" font-size="19.3" fill="#50535e" stroke="#50535e" stroke-width="0.35" textLength="100" lengthAdjust="spacingAndGlyphs">0.32000000</text>
<text x="3960.8" y="1189.4" font-size="19.3" fill="#50535e" stroke="#50535e" stroke-width="0.35" textLength="100" lengthAdjust="spacingAndGlyphs">0.31000000</text>
<text x="3960.8" y="1246.0" font-size="19.3" fill="#50535e" stroke="#50535e" stroke-width="0.35" textLength="100" lengthAdjust="spacingAndGlyphs">0.30000000</text>
<text x="3960.8" y="1302.6" font-size="19.3" fill="#50535e" stroke="#50535e" stroke-width="0.35" textLength="100" lengthAdjust="spacingAndGlyphs">0.29000000</text>
<text x="3960.8" y="1359.3" font-size="19.3" fill="#50535e" stroke="#50535e" stroke-width="0.35" textLength="100" lengthAdjust="spacingAndGlyphs">0.28000000</text>
<text x="3960.8" y="1415.9" font-size="19.3" fill="#50535e" stroke="#50535e" stroke-width="0.35" textLength="100" lengthAdjust="spacingAndGlyphs">0.27000000</text>
<text x="3960.8" y="1472.5" font-size="19.3" fill="#50535e" stroke="#50535e" stroke-width="0.35" textLength="100" lengthAdjust="spacingAndGlyphs">0.26000000</text>
<text x="3960.8" y="1529.2" font-size="19.3" fill="#50535e" stroke="#50535e" stroke-width="0.35" textLength="100" lengthAdjust="spacingAndGlyphs">0.25000000</text>
<text x="3960.8" y="1585.8" font-size="19.3" fill="#50535e" stroke="#50535e" stroke-width="0.35" textLength="100" lengthAdjust="spacingAndGlyphs">0.24000000</text>
<text x="3960.8" y="1642.4" font-size="19.3" fill="#50535e" stroke="#50535e" stroke-width="0.35" textLength="100" lengthAdjust="spacingAndGlyphs">0.23000000</text>
<text x="3960.8" y="1699.0" font-size="19.3" fill="#50535e" stroke="#50535e" stroke-width="0.35" textLength="100" lengthAdjust="spacingAndGlyphs">0.22000000</text>
<text x="3960.8" y="1755.7" font-size="19.3" fill="#50535e" stroke="#50535e" stroke-width="0.35" textLength="100" lengthAdjust="spacingAndGlyphs">0.21000000</text>
<text x="3960.8" y="1812.3" font-size="19.3" fill="#50535e" stroke="#50535e" stroke-width="0.35" textLength="100" lengthAdjust="spacingAndGlyphs">0.20000000</text>
<text x="3960.8" y="1868.9" font-size="19.3" fill="#50535e" stroke="#50535e" stroke-width="0.35" textLength="100" lengthAdjust="spacingAndGlyphs">0.19000000</text>
<rect x="3945.7" y="56.5" width="134.10000000000036" height="24" fill="#d1d4dc"/>
<text x="4011" y="75.6" font-size="19.3" fill="#50535e" text-anchor="middle" textLength="34" lengthAdjust="spacingAndGlyphs">USD</text>
<rect x="3944.2" y="825.6" width="128.7" height="28.2" rx="3" fill="#f44336"/>
<text x="3960.6" y="846.6" font-size="19.3" fill="#ffffff" stroke="#ffffff" stroke-width="0.3" textLength="100" lengthAdjust="spacingAndGlyphs">0.37045277</text>
<rect x="3944.2" y="864.7" width="128.7" height="28.2" rx="3" fill="#f44336"/>
<text x="3960.6" y="885.7" font-size="19.3" fill="#ffffff" stroke="#ffffff" stroke-width="0.3" textLength="100" lengthAdjust="spacingAndGlyphs">0.36354924</text>
<rect x="3944.2" y="937.0" width="128.7" height="28.2" rx="3" fill="#f44336"/>
<text x="3960.6" y="958.0" font-size="19.3" fill="#ffffff" stroke="#ffffff" stroke-width="0.3" textLength="100" lengthAdjust="spacingAndGlyphs">0.35078075</text>
<rect x="3944.2" y="1240.4" width="128.7" height="28.2" rx="3" fill="#f44336"/>
<text x="3960.6" y="1261.4" font-size="19.3" fill="#ffffff" stroke="#ffffff" stroke-width="0.3" textLength="100" lengthAdjust="spacingAndGlyphs">0.29720919</text>
<rect x="3944.2" y="1456.1" width="128.7" height="28.2" rx="3" fill="#f44336"/>
<text x="3960.6" y="1477.1" font-size="19.3" fill="#ffffff" stroke="#ffffff" stroke-width="0.3" textLength="100" lengthAdjust="spacingAndGlyphs">0.25912565</text>
<rect x="3944.2" y="1742.7" width="128.7" height="28.2" rx="3" fill="#f44336"/>
<text x="3960.6" y="1763.7" font-size="19.3" fill="#ffffff" stroke="#ffffff" stroke-width="0.3" textLength="100" lengthAdjust="spacingAndGlyphs">0.20850465</text>
<rect x="3944.2" y="1664.5" width="128.7" height="28.2" rx="3" fill="#4caf50"/>
<text x="3960.6" y="1685.5" font-size="19.3" fill="#ffffff" stroke="#ffffff" stroke-width="0.3" textLength="100" lengthAdjust="spacingAndGlyphs">0.22232089</text>
<rect x="3944.2" y="1355.2" width="128.7" height="27.6" rx="3" fill="#ff9800"/>
<text x="3960.6" y="1375.9" font-size="19.3" fill="#000000" stroke="#000000" stroke-width="0.3" textLength="100" lengthAdjust="spacingAndGlyphs">0.27698509</text>
<rect x="3944.2" y="1156" width="128.7" height="50.6" rx="3" fill="#2196f3"/>
<text x="3960.6" y="1177.0" font-size="19.3" fill="#ffffff" textLength="100" lengthAdjust="spacingAndGlyphs">0.31210945</text>
<text x="3961" y="1200.6" font-size="19.3" fill="#ffffff" fill-opacity="0.85" textLength="46.6" lengthAdjust="spacingAndGlyphs">23:22</text>
</g>
<text x="62.9" y="1937.8" font-size="19.3" fill="#50535e" stroke="#50535e" stroke-width="0.3" text-anchor="middle">8</text>
<text x="217.1" y="1937.8" font-size="19.3" fill="#50535e" stroke="#50535e" stroke-width="0.3" text-anchor="middle">12:00</text>
<text x="371.4" y="1937.8" font-size="19.3" fill="#50535e" stroke="#50535e" stroke-width="0.3" text-anchor="middle">15</text>
<text x="525.6" y="1937.8" font-size="19.3" fill="#50535e" stroke="#50535e" stroke-width="0.3" text-anchor="middle">12:00</text>
<text x="679.9" y="1937.8" font-size="19.3" fill="#50535e" stroke="#50535e" stroke-width="0.3" text-anchor="middle">22</text>
<text x="856.2" y="1937.8" font-size="19.3" fill="#50535e" stroke="#50535e" stroke-width="0.3" text-anchor="middle">26</text>
<text x="1076.5" y="1937.8" font-size="19.3" fill="#50535e" stroke="#50535e" stroke-width="0.3" text-anchor="middle">Dec</text>
<text x="1296.9" y="1937.8" font-size="19.3" fill="#50535e" stroke="#50535e" stroke-width="0.3" text-anchor="middle">6</text>
<text x="1451.1" y="1937.8" font-size="19.3" fill="#50535e" stroke="#50535e" stroke-width="0.3" text-anchor="middle">12:00</text>
<text x="1605.4" y="1937.8" font-size="19.3" fill="#50535e" stroke="#50535e" stroke-width="0.3" text-anchor="middle">13</text>
<text x="1759.6" y="1937.8" font-size="19.3" fill="#50535e" stroke="#50535e" stroke-width="0.3" text-anchor="middle">12:00</text>
<text x="1913.8" y="1937.8" font-size="19.3" fill="#50535e" stroke="#50535e" stroke-width="0.3" text-anchor="middle">20</text>
<text x="2068.1" y="1937.8" font-size="19.3" fill="#50535e" stroke="#50535e" stroke-width="0.3" text-anchor="middle">12:00</text>
<text x="2222.3" y="1937.8" font-size="19.3" fill="#50535e" stroke="#50535e" stroke-width="0.3" text-anchor="middle">27</text>
<text x="2442.7" y="1937.8" font-size="19.3" fill="#50535e" stroke="#50535e" stroke-width="0" text-anchor="middle" font-weight="bold">2022</text>
<text x="2619.0" y="1937.8" font-size="19.3" fill="#50535e" stroke="#50535e" stroke-width="0.3" text-anchor="middle">5</text>
<text x="2839.3" y="1937.8" font-size="19.3" fill="#50535e" stroke="#50535e" stroke-width="0.3" text-anchor="middle">10</text>
<text x="2993.6" y="1937.8" font-size="19.3" fill="#50535e" stroke="#50535e" stroke-width="0.3" text-anchor="middle">12:00</text>
<text x="3147.8" y="1937.8" font-size="19.3" fill="#50535e" stroke="#50535e" stroke-width="0.3" text-anchor="middle">17</text>
<text x="3302.0" y="1937.8" font-size="19.3" fill="#50535e" stroke="#50535e" stroke-width="0.3" text-anchor="middle">12:00</text>
<text x="3456.3" y="1937.8" font-size="19.3" fill="#50535e" stroke="#50535e" stroke-width="0.3" text-anchor="middle">24</text>
<text x="3632.6" y="1937.8" font-size="19.3" fill="#50535e" stroke="#50535e" stroke-width="0.3" text-anchor="middle">28</text>
<text x="3808.8" y="1937.8" font-size="19.3" fill="#50535e" stroke="#50535e" stroke-width="0.3" text-anchor="middle">Feb</text>
<g fill="#d1d4dc">
<path d="M16.6 1974.3H29.5V1990.2H23V1980.9H16.6Z"/>
<circle cx="35.3" cy="1977.4" r="2.9"/>
<path d="M39.7 1974.3H48.4L41.8 1990.2H33.1Z"/>
<text x="56.7" y="1990.2" font-size="20" stroke="#d1d4dc" stroke-width="0.4" textLength="114" lengthAdjust="spacingAndGlyphs">TradingView</text>
</g>
</svg></body></html>
